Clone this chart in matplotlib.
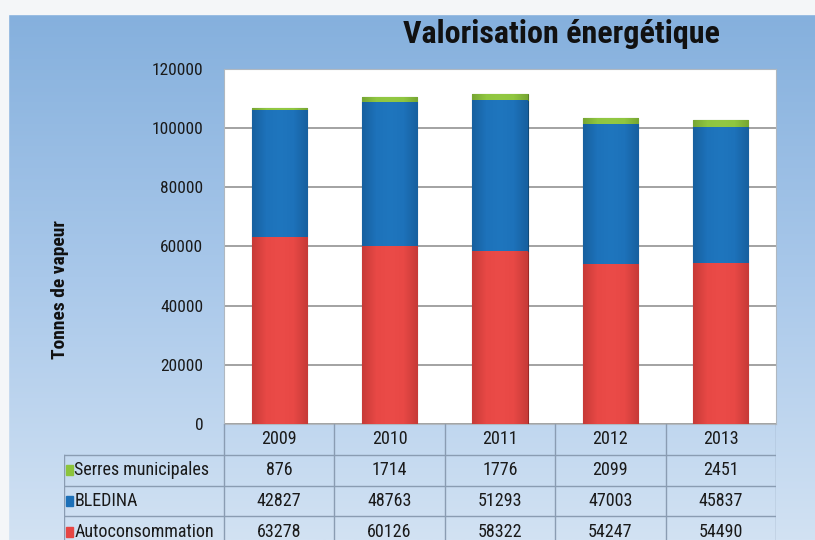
import numpy as np
import matplotlib.pyplot as plt
from matplotlib.patches import Rectangle
from matplotlib.colors import LinearSegmentedColormap

plt.rcParams['font.family'] = ['Roboto Condensed', 'DejaVu Sans']

years = ['2009', '2010', '2011', '2012', '2013']
series = ['Serres municipales', 'BLEDINA', 'Autoconsommation']
serres = [876, 1714, 1776, 2099, 2451]
bledina = [42827, 48763, 51293, 47003, 45837]
autoconso = [63278, 60126, 58322, 54247, 54490]
colors = {'Serres municipales': '#8cc43c', 'BLEDINA': '#1c70b8', 'Autoconsommation': '#e64644'}
shades = {'Serres municipales': ['#77a633', '#8fc640', '#92c843', '#8fc640', '#77a633'],
          'BLEDINA': ['#17609f', '#1d72ba', '#1f76be', '#1d72ba', '#17609f'],
          'Autoconsommation': ['#c73a37', '#e84845', '#eb4b48', '#e84845', '#c73a37']}

fig = plt.figure(figsize=(8.15, 5.4), dpi=100)

# background panel with gradient
bg = fig.add_axes([0, 0, 1, 1], zorder=-10)
bg.set_xlim(0, 815)
bg.set_ylim(540, 0)
bg.axis('off')
cmap = LinearSegmentedColormap.from_list('bg', ['#85b0dd', '#a9c8ea', '#d2e2f3'])
grad = np.linspace(0, 1, 256).reshape(-1, 1)
bg.imshow(grad, cmap=cmap, extent=[8, 815, 540, 14], aspect='auto')
bg.add_patch(Rectangle((0, 0), 815, 14, color='#f4f6f8', zorder=2))
bg.add_patch(Rectangle((0, 0), 8, 540, color='#f4f6f8', zorder=2))

# main chart
ax = fig.add_axes([224 / 815, 1 - 424 / 540, 552 / 815, 355 / 540])
ax.set_facecolor('white')
x = np.arange(len(years))
w = 0.5


def shaded(bars, name):
    # soft horizontal shading inside each bar, like the original 3D look
    cm = LinearSegmentedColormap.from_list(name, shades[name])
    hgrad = np.linspace(0, 1, 64).reshape(1, -1)
    for b in bars:
        x0, y0 = b.get_x(), b.get_y()
        im = ax.imshow(hgrad, cmap=cm, aspect='auto', zorder=3.5,
                       extent=[x0, x0 + b.get_width(), y0, y0 + b.get_height()])
        im.set_clip_path(b)


b1 = ax.bar(x, autoconso, w, color=colors['Autoconsommation'], edgecolor='#9c2826', linewidth=0.8, zorder=3)
shaded(b1, 'Autoconsommation')
b2 = ax.bar(x, bledina, w, bottom=autoconso, color=colors['BLEDINA'], edgecolor='#104a78', linewidth=0.8, zorder=3)
shaded(b2, 'BLEDINA')
b3 = ax.bar(x, serres, w, bottom=np.array(autoconso) + np.array(bledina),
            color=colors['Serres municipales'], edgecolor='#5a8222', linewidth=0.8, zorder=3)
shaded(b3, 'Serres municipales')
ax.set_xlim(-0.5, 4.5)
ax.set_ylim(0, 120000)
ax.set_yticks(range(0, 120001, 20000))
ax.tick_params(axis='y', length=0, pad=15, labelsize=12.5, labelcolor='#1a1a1a')
ax.set_xticks([])
ax.grid(axis='y', color='#929292', linewidth=1.2, zorder=0)
for s in ax.spines.values():
    s.set_color('#b0b8c0')
fig.text(60 / 815, 1 - 290 / 540, 'Tonnes de vapeur', fontsize=14, fontweight='bold',
         rotation=90, ha='center', va='center', color='#111111')

fig.text(561 / 815, 1 - 34 / 540, 'Valorisation énergétique', fontsize=23,
         fontweight='bold', ha='center', va='center', color='#111111')

# data table under the chart
tb = fig.add_axes([64 / 815, 1 - 547 / 540, 712 / 815, 123 / 540])
tb.set_xlim(-0.5 - 160 / 110.4, 4.5)
tb.set_ylim(4, 0)
tb.axis('off')
line_c = '#8a9cb2'
x0 = -0.5 - 160 / 110.4
# header row
for i, yr in enumerate(years):
    tb.text(i, 0.5, yr, ha='center', va='center', fontsize=13, color='#1a1a1a')
tb.plot([-0.5, -0.5], [0, 4], color=line_c, lw=1)
for i in range(len(years)):
    tb.plot([i + 0.5, i + 0.5], [0, 4], color=line_c, lw=1)
tb.plot([x0, x0], [1, 4], color=line_c, lw=1)
tb.plot([x0, 4.5], [1, 1], color=line_c, lw=1)
tb.plot([x0, 4.5], [2, 2], color=line_c, lw=1)
tb.plot([x0, 4.5], [3, 3], color=line_c, lw=1)
rows = [serres, bledina, autoconso]
for r, (name, vals) in enumerate(zip(series, rows)):
    yc = r + 1.5
    tb.add_patch(Rectangle((x0 + 0.02, yc - 0.16), 0.065, 0.32, color=colors[name]))
    tb.text(x0 + 0.095, yc, name, ha='left', va='center', fontsize=13, color='#1a1a1a')
    for i, v in enumerate(vals):
        tb.text(i, yc, str(v), ha='center', va='center', fontsize=13, color='#1a1a1a')

fig.savefig('out.png', dpi=100)
